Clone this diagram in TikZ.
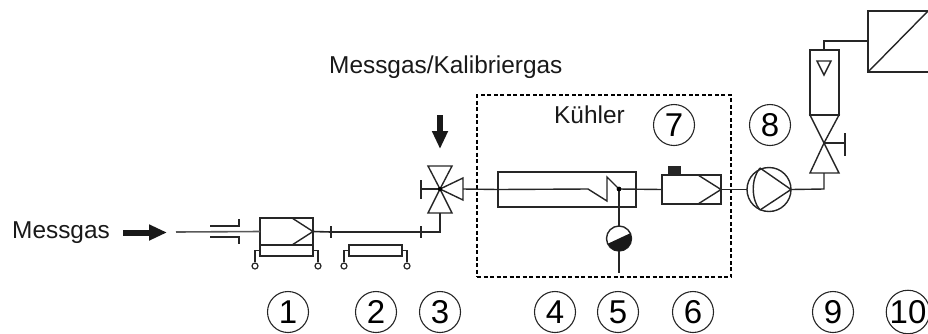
\documentclass[tikz,border=0pt]{standalone}
\usepackage{fontspec}
\setmainfont{Liberation Sans}
\usetikzlibrary{calc, positioning, arrows.meta}

\begin{document}
\begin{tikzpicture}[x=1pt,y=-1pt,line join=miter,
  pipe/.style={draw=black!85, line width=1.4pt},
  box/.style={draw=black!85, line width=1.4pt, fill=white, inner sep=0pt, outer sep=0pt},
  num/.style={draw=black!85, circle, line width=1.1pt, minimum width=41pt, inner sep=0pt, font=\fontsize{33}{33}\selectfont},
  txt/.style={font=\fontsize{24.4}{24.4}\selectfont, inner sep=0pt, text=black!90, anchor=base west},
  pin/.style={draw=black!85, circle, line width=1.2pt, fill=white, minimum width=6pt, inner sep=0pt},
  flow/.style={-{Triangle[length=18pt,width=15pt]}, line width=6pt, black!90}]
  \useasboundingbox (0,0) rectangle (928,333);

  % texts
  \node[txt] (t1) at (12,238) {Messgas};
  \node[txt] (t2) at (329,73) {Messgas/Kalibriergas};
  \node[txt] (t3) at (554,123) {Kühler};

  % numbers
  \node[num] (n1) at (288,312) {1};
  \node[num] (n2) at (376,312) {2};
  \node[num] (n3) at (440,312) {3};
  \node[num] (n4) at (555,312) {4};
  \node[num] (n5) at (618,312) {5};
  \node[num] (n6) at (693,312) {6};
  \node[num] (n7) at (674,125) {7};
  \node[num] (n8) at (770,125) {8};
  \node[num] (n9) at (833,312) {9};
  \node[num] (n10) at (908,312) {10};

  % dashed frame
  \node[draw=black, dash pattern=on 4pt off 2.5pt, line width=1.2pt, minimum width=254pt, minimum height=182pt, inner sep=0pt] (frame) at (604,186) {};

  % junctions
  \coordinate (in) at (176,232);
  \coordinate (v3) at (440,189);
  \coordinate (v3b) at (440,213);
  \coordinate (v3l) at (421,189);
  \coordinate (v3r) at (463,189);
  \coordinate (knee) at (440,232);
  \coordinate (t2a) at (331,232);
  \coordinate (t2b) at (421,232);
  \coordinate (j5) at (619,189);
  \coordinate (p5end) at (619,273);
  \coordinate (v9) at (824,143);
  \coordinate (knee9) at (824,189);
  \coordinate (v9h) at (845,143);
  \coordinate (a1) at (123,232.5);
  \coordinate (a1e) at (167,232.5);
  \coordinate (a2) at (440,115);
  \coordinate (a2e) at (440,149);
  \coordinate (top9) at (824,41);

  % boxes
  \node[box, minimum width=53pt, minimum height=27pt] (f1) at (286.5,231.5) {};
  \node[box, minimum width=53pt, minimum height=11pt] (h1) at (286.5,250.5) {};
  \node[box, minimum width=53pt, minimum height=11pt] (h2) at (375.5,250.5) {};
  \node[box, minimum width=138pt, minimum height=35pt] (cool) at (567,189.5) {};
  \node[box, minimum width=59pt, minimum height=29pt] (f6) at (691.5,189.5) {};
  \node[fill=black!85, minimum width=13pt, minimum height=9pt, inner sep=0pt, anchor=south] (cap) at (674.5,175) {};
  \node[draw=black!85, circle, line width=1.4pt, minimum width=25pt, inner sep=0pt, outer sep=0pt] (drain) at (619,238.5) {};
  \node[draw=black!85, circle, line width=1.4pt, minimum width=44pt, inner sep=0pt, outer sep=0pt] (pump) at (769,189.5) {};
  \node[box, minimum width=29pt, minimum height=65pt] (rota) at (824.5,82.5) {};

  % pins
  \node[pin] (p1) at (255,266) {};
  \node[pin] (p2) at (318,266) {};
  \node[pin] (p3) at (344,266) {};
  \node[pin] (p4) at (407,266) {};

  % pipes
  \draw[pipe, line width=1.6pt, black!65] (in) -- (f1.west);
  \draw[pipe, line width=1.6pt] (f1.east) -- (t2a);
  \draw[pipe, line width=2.2pt] (t2a) -- (t2b);
  \draw[pipe] (t2b) -- (knee) -- (v3b);
  \draw[pipe] (v3r) -- (cool.west);
  \draw[pipe] (cool.west) -- ($(j5)+(-31,0)$) -- (607,201) -- (607,177) -- (j5) -- (f6.west);
  \draw[pipe] (j5) -- (drain);
  \draw[pipe] (drain) -- (p5end);
  \draw[pipe] (f6.east) -- (pump);
  \draw[pipe] (pump.east) -- (knee9) -- (824,173);
  \draw[pipe] (rota.north -| top9) -- (top9) -- (868,41);

  % inlet nozzle
  \draw[pipe] (210,226) -- (239,226) -- (239,219);
  \draw[pipe] (210,237) -- (239,237) -- (239,244);

  % ticks
  \draw[pipe] (331,226) -- (331,238);
  \draw[pipe] (421,226) -- (421,238);

  % chevrons
  \draw[pipe] (292,218) -- (f1.east) -- (292,245);
  \draw[pipe] (698,175) -- (f6.east) -- (698,204);

  % heater wires
  \draw[pipe] (h1.west) -| (p1);
  \draw[pipe] (h1.east) -| (p2);
  \draw[pipe] (h2.west) -| (p3);
  \draw[pipe] (h2.east) -| (p4);

  % valve 3
  \draw[pipe] (v3) -- (428,166) -- (452,166) -- cycle;
  \draw[pipe] (v3) -- (428,213) -- (452,213) -- cycle;
  \draw[pipe] (v3) -- (463,178) -- (463,200) -- cycle;
  \draw[pipe] (v3) -- (v3l);
  \draw[pipe] (421,180) -- (421,199);
  \fill[black] (v3) circle (2.2pt);

  % drain pump
  \fill[black!90] (drain.205) arc (205:385:12.5pt) -- cycle;
  \fill[black] (j5) circle (2.4pt);

  % gas pump
  \draw[pipe] (760,168) -- (pump.east) -- (760,210);
  \draw[pipe] (760,168) .. controls (751,178) and (751,200) .. (760,210);

  % valve 9
  \draw[pipe] (v9) -- (810,173) -- (839,173) -- cycle;
  \draw[pipe] (v9) -- (810,115) -- (839,115) -- cycle;
  \draw[pipe] (v9) -- (v9h);
  \draw[pipe] (845,133) -- (845,156);
  \draw[pipe] (817,61) -- (831,61) -- (824,75) -- cycle;

  % converter
  \draw[pipe] (928,11) -- (868,11) -- (868,72) -- (928,72);
  \draw[pipe] (868,72) -- (928,11);

  % flow arrows
  \draw[flow] (a1) -- (a1e);
  \draw[flow] (a2) -- (a2e);
\end{tikzpicture}
\end{document}
